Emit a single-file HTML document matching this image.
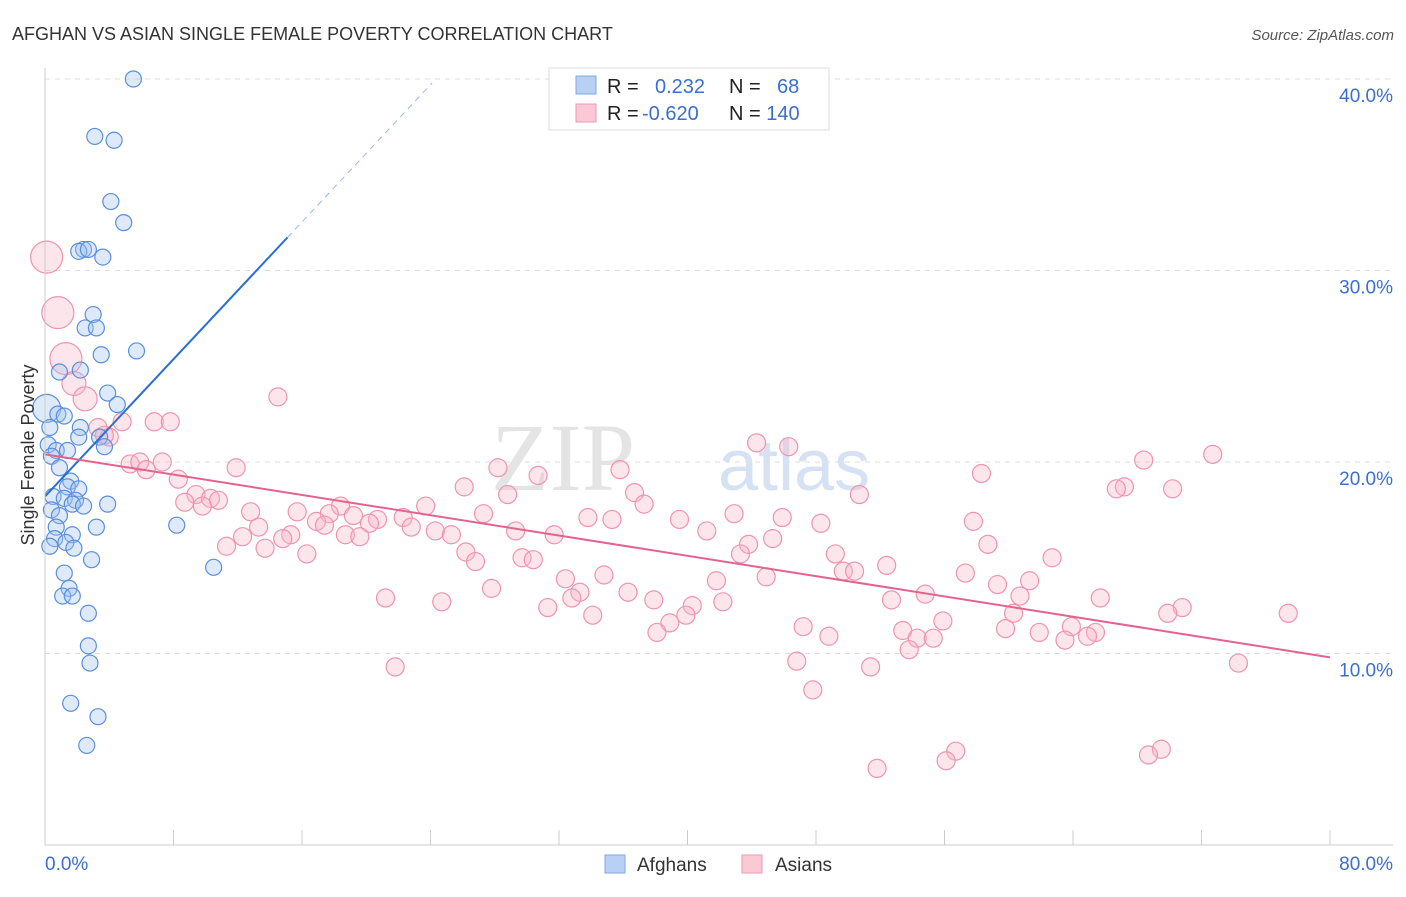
<!DOCTYPE html>
<html><head><meta charset="utf-8"><style>
body{margin:0;background:#fff;font-family:"Liberation Sans",sans-serif}
</style></head><body>
<svg width="1406" height="892" viewBox="0 0 1406 892" xmlns="http://www.w3.org/2000/svg" font-family="Liberation Sans, sans-serif">
<text x="12" y="40" font-size="18" fill="#333">AFGHAN VS ASIAN SINGLE FEMALE POVERTY CORRELATION CHART</text>
<text x="1394" y="40" font-size="15" fill="#555" font-style="italic" text-anchor="end">Source: ZipAtlas.com</text>
<g id="grid"></g>
<text x="635" y="490" font-size="96" fill="#e4e4e4" text-anchor="end" font-family="Liberation Serif, serif">ZIP</text>
<text x="718" y="490" font-size="72" fill="#d6e2f3">atlas</text>
<g id="pts"></g>
<g id="lines"></g>
<g id="axes"></g>
<text transform="translate(34,455) rotate(-90)" font-size="18" fill="#333" text-anchor="middle">Single Female Poverty</text>
<g>
<rect x="549" y="68" width="280" height="62" fill="#fff" stroke="#ddd"/>
<rect x="576" y="76" width="20" height="18" fill="#b8d0f4" stroke="#7fa8e3"/>
<rect x="576" y="104" width="20" height="18" fill="#fbc8d6" stroke="#ee9ab3"/>
<text x="607" y="93" font-size="20" fill="#222">R = <tspan fill="#3a6fd0" x="655">0.232</tspan></text>
<text x="729" y="93" font-size="20" fill="#222">N = <tspan fill="#3a6fd0" x="777">68</tspan></text>
<text x="607" y="120" font-size="20" fill="#222">R = <tspan fill="#3a6fd0" x="642">-0.620</tspan></text>
<text x="729" y="120" font-size="20" fill="#222">N = <tspan fill="#3a6fd0">140</tspan></text>
</g>
<g>
<rect x="605" y="855" width="20" height="18" fill="#b8d0f4" stroke="#7fa8e3"/>
<text x="637" y="871" font-size="19" fill="#333">Afghans</text>
<rect x="742" y="855" width="20" height="18" fill="#fbc8d6" stroke="#ee9ab3"/>
<text x="775" y="871" font-size="19" fill="#333">Asians</text>
</g>
</svg>
<script>
const yTicks=[10,20,30,40];
const yTickLabels=["10.0%","20.0%","30.0%","40.0%"];
const xTickCount=10;
const xLabels=["0.0%","80.0%"];
const afghanX=[5.5,3.1,4.3,4.1,4.9,2.4,2.1,2.7,3.6,3.0,2.5,3.2,3.5,5.7,2.2,0.9,3.9,4.5,0.1,0.8,1.2,2.2,0.3,2.1,3.4,3.7,0.2,0.7,1.4,0.4,0.9,1.6,1.4,2.1,0.5,1.2,1.9,1.7,3.9,2.4,0.4,0.9,0.7,3.2,8.2,1.7,0.6,1.3,1.8,0.3,2.9,10.5,1.2,1.5,1.1,1.7,2.7,2.7,2.8,1.6,3.3,2.6];
const afghanY=[40.0,37.0,36.8,33.6,32.5,31.1,31.0,31.1,30.7,27.7,27.0,27.0,25.6,25.8,24.8,24.7,23.6,23.0,22.8,22.5,22.4,21.8,21.8,21.3,21.3,20.8,20.9,20.6,20.6,20.3,19.7,19.0,18.7,18.6,18.2,18.1,18.0,17.8,17.8,17.7,17.5,17.2,16.6,16.6,16.7,16.2,16.0,15.8,15.5,15.6,14.9,14.5,14.2,13.4,13.0,13.0,12.1,10.4,9.5,7.4,6.7,5.2];
const asianX=[0.1,0.8,1.3,1.8,2.5,14.5,6.8,7.8,4.8,3.3,4.0,3.7,44.3,46.3,5.3,5.9,6.3,7.3,11.9,28.2,35.8,72.7,68.4,58.3,30.7,8.3,26.1,67.2,66.7,70.2,36.7,28.8,50.7,9.4,10.3,10.8,8.7,9.8,18.4,23.7,37.3,12.8,17.7,19.2,27.3,42.9,45.9,33.8,35.3,22.3,15.7,16.9,20.7,20.2,17.4,39.5,57.8,48.3,13.3,22.8,24.3,29.3,41.2,15.3,18.7,19.6,25.3,31.7,12.3,14.8,45.3,11.3,13.7,43.8,58.7,16.3,26.2,43.3,49.2,62.7,29.7,30.4,26.8,52.4,49.7,50.4,44.9,57.3,34.8,32.4,61.3,41.8,59.3,27.8,33.3,36.3,54.8,60.7,32.8,21.2,52.7,65.7,37.9,24.7,42.2,40.3,31.3,70.8,60.3,69.9,77.4,34.1,39.9,55.9,38.9,63.9,47.2,53.4,59.8,61.9,65.4,38.1,48.8,54.3,55.3,64.9,63.5,53.8,46.8,51.4,74.3,21.8,47.8,56.7,56.1,69.5,68.7,51.8];
const asianY=[30.7,27.8,25.4,24.1,23.3,23.4,22.1,22.1,22.1,21.8,21.3,21.4,21.0,20.8,19.9,20.0,19.6,20.0,19.7,19.7,19.6,20.4,20.1,19.4,19.3,19.1,18.7,18.7,18.6,18.6,18.4,18.3,18.3,18.3,18.1,18.0,17.9,17.7,17.7,17.7,17.8,17.4,17.3,17.2,17.3,17.3,17.1,17.1,17.0,17.1,17.4,16.9,17.0,16.8,16.7,17.0,16.9,16.8,16.6,16.6,16.4,16.4,16.4,16.2,16.2,16.1,16.2,16.2,16.1,16.0,16.0,15.6,15.5,15.7,15.7,15.2,15.3,15.2,15.2,15.0,15.0,14.9,14.8,14.6,14.3,14.3,14.0,14.2,14.1,13.9,13.8,13.8,13.6,13.4,13.2,13.2,13.1,13.0,12.9,12.9,12.8,12.9,12.8,12.7,12.7,12.5,12.4,12.4,12.1,12.1,12.1,12.0,12.0,11.7,11.6,11.4,11.4,11.2,11.3,11.1,11.1,11.1,10.9,10.8,10.8,10.9,10.7,10.2,9.6,9.3,9.5,9.3,8.1,4.9,4.4,5.0,4.7,4.0];
const afghanTrend=[18.2,0.896,15.1,24.1];
const asianTrend=[20.4,-0.1325,80];
const NS="http://www.w3.org/2000/svg";
const sx=v=>45+v*(1285/80), sy=v=>845-v*19.15;
function mk(t,a,p){const e=document.createElementNS(NS,t);for(const k in a)e.setAttribute(k,a[k]);p.appendChild(e);return e;}
const grid=document.getElementById('grid'),axes=document.getElementById('axes'),pts=document.getElementById('pts'),lines=document.getElementById('lines');
yTicks.forEach((t,i)=>{
 const l=mk('line',{x1:45,x2:1393,y1:sy(t),y2:sy(t),stroke:'#ddd','stroke-dasharray':'5,5'},grid);
 
 
 const tx=mk('text',{x:1393,y:sy(t)+23,'font-size':19,fill:'#3a6fd0','text-anchor':'end'},axes);
 tx.textContent=yTickLabels[i];
 
 
});
const ax=mk('line',{x1:45,x2:1393,y1:845,y2:845,stroke:'#ccc'},axes);


const ay=mk('line',{x1:45,x2:45,y1:68,y2:845,stroke:'#ccc'},axes);


for(let i=1;i<=xTickCount;i++){const x=sx(i*8);const t=mk('line',{x1:x,x2:x,y1:830,y2:845,stroke:'#ccc'},axes);
 
 }
const x0=mk('text',{x:45,y:870,'font-size':19,fill:'#3a6fd0'},axes);x0.textContent=xLabels[0];


const x1=mk('text',{x:1393,y:870,'font-size':19,fill:'#3a6fd0','text-anchor':'end'},axes);x1.textContent=xLabels[1];


asianX.forEach((v,i)=>{const r=i<3?16:(i<5?12:9);const c=mk('circle',{cx:sx(v),cy:sy(asianY[i]),r:r,fill:'rgba(248,180,200,0.35)',stroke:'#ef94b0','stroke-width':1.2},pts);
 
 });
afghanX.forEach((v,i)=>{const r=i==18?14:8;const c=mk('circle',{cx:sx(v),cy:sy(afghanY[i]),r:r,fill:'rgba(160,195,240,0.35)',stroke:'#5a8fdc','stroke-width':1.2},pts);
 
 });
const [ab,am,ae,ad]=afghanTrend;
const bl=mk('line',{x1:sx(0),y1:sy(ab),x2:sx(ae),y2:sy(ab+am*ae),stroke:'#2a6dd6','stroke-width':2},lines);


const bd=mk('line',{x1:sx(ae),y1:sy(ab+am*ae),x2:sx(ad),y2:sy(ab+am*ad),stroke:'#9bb8e6','stroke-width':1,'stroke-dasharray':'6,5'},lines);


const [pb,pm,pe]=asianTrend;
const pl=mk('line',{x1:sx(0),y1:sy(pb),x2:sx(pe),y2:sy(pb+pm*pe),stroke:'#e4628e','stroke-width':2},lines);


</script>
</body></html>
